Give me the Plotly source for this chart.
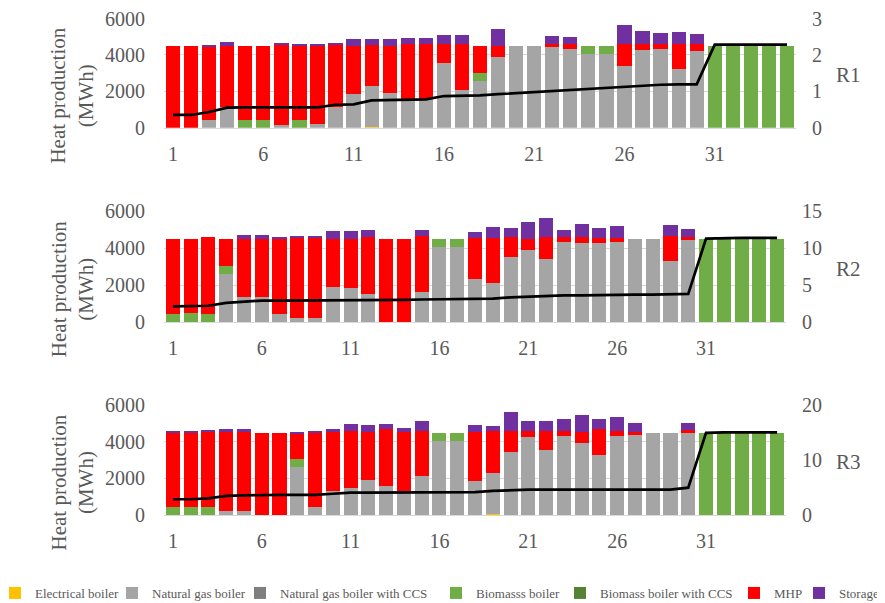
import plotly.graph_objects as go

periods = list(range(1, 36))
tick_periods = [1, 6, 11, 16, 21, 26, 31]

categories = ['Electrical boiler', 'Natural gas boiler', 'Natural gas boiler with CCS',
              'Biomasss boiler', 'Biomass boiler with CCS', 'MHP', 'Storage']
colors = ['#FFC000', '#A5A5A5', '#7F7F7F', '#70AD47', '#548235', '#FF0000', '#7030A0']

zeros = [0, 0, 0, 0, 0, 0, 0, 0, 0, 0, 0, 0, 0, 0, 0, 0, 0, 0, 0, 0, 0, 0, 0, 0, 0, 0, 0, 0, 0, 0, 0, 0, 0, 0, 0]

# ---- R1
r1_electrical = [0, 0, 0, 0, 0, 0, 0, 0, 0, 0, 0, 30, 0, 0, 0, 0, 0, 0, 0, 0, 0, 0, 0, 0, 0, 0, 0, 0, 0, 0, 0, 0, 0, 0, 0]
r1_gas = [0, 0, 400, 1140, 0, 0, 160, 0, 200, 1140, 1830, 2250, 1890, 1600, 1600, 3540, 2090, 2590, 3860, 4500,
          4500, 4440, 4320, 4040, 4040, 3410, 4280, 4320, 3250, 4220, 0, 0, 0, 0, 0]
r1_gas_ccs = zeros
r1_biomass = [0, 0, 0, 0, 420, 450, 0, 420, 0, 0, 0, 0, 0, 0, 0, 0, 0, 440, 0, 0,
              0, 0, 0, 460, 460, 0, 0, 0, 0, 0, 4500, 4500, 4500, 4500, 4500]
r1_biomass_ccs = zeros
r1_mhp = [4500, 4500, 4100, 3360, 4080, 4050, 4370, 4110, 4330, 3390, 2670, 2250, 2590, 2990, 3020, 1050, 2500, 1450, 640, 0,
          0, 150, 270, 0, 0, 1180, 320, 270, 1370, 370, 0, 0, 0, 0, 0]
r1_storage = [0, 0, 60, 210, 0, 0, 110, 70, 90, 150, 400, 330, 420, 360, 330, 520, 520, 0, 900, 0,
              0, 450, 400, 0, 0, 1030, 690, 610, 620, 540, 0, 0, 0, 0, 0]
r1_line = [0.35, 0.35, 0.43, 0.55, 0.56, 0.56, 0.56, 0.56, 0.56, 0.63, 0.64, 0.75, 0.76, 0.77, 0.78, 0.87, 0.87, 0.89,
           0.92, 0.95, 0.96, 1.0, 1.03, 1.07, 1.08, 1.13, 1.15, 1.18, 1.19, 1.19, 2.28, 2.28, 2.28, 2.28, 2.28]

# ---- R2
r2_electrical = [0, 0, 0, 0, 0, 0, 0, 0, 0, 0, 0, 0, 0, 0, 0, 0, 0, 20, 0, 0, 0, 20, 0, 0, 0, 0, 0, 0, 0, 0, 0, 0, 0, 0, 0]
r2_gas = [0, 0, 0, 2580, 1340, 1340, 430, 220, 220, 1900, 1860, 1520, 0, 0, 1610, 4050, 4050, 2290, 2100, 3540,
          3900, 3410, 4350, 4300, 4260, 4350, 4480, 4480, 3290, 4450, 0, 0, 0, 0, 0]
r2_gas_ccs = zeros
r2_biomass = [430, 470, 430, 460, 0, 0, 0, 0, 0, 0, 0, 0, 0, 0, 0, 430, 430, 0, 0, 0,
              0, 0, 0, 0, 0, 0, 0, 0, 0, 0, 4480, 4480, 4480, 4480, 4480]
r2_biomass_ccs = zeros
r2_mhp = [4050, 4010, 4160, 1440, 3180, 3180, 4090, 4370, 4370, 2620, 2660, 3070, 4480, 4480, 3050, 0, 0, 2260, 2470, 1050,
          620, 1200, 240, 330, 310, 220, 0, 0, 1370, 140, 0, 0, 0, 0, 0]
r2_storage = [0, 0, 0, 0, 180, 210, 50, 90, 90, 400, 400, 400, 0, 0, 310, 0, 0, 290, 560, 520,
              920, 990, 400, 680, 540, 630, 0, 0, 600, 430, 0, 0, 0, 0, 0]
r2_line = [2.12, 2.12, 2.2, 2.6, 2.8, 2.9, 2.9, 2.9, 2.9, 2.95, 2.95, 2.95, 2.95, 3.0, 3.05, 3.1, 3.15, 3.16,
           3.16, 3.34, 3.43, 3.57, 3.6, 3.6, 3.6, 3.6, 3.7, 3.72, 3.75, 3.8, 11.3, 11.4, 11.4, 11.4, 11.4]

# ---- R3
r3_electrical = [0, 0, 0, 0, 0, 0, 0, 0, 0, 0, 0, 0, 0, 0, 0, 0, 0, 0, 50, 0, 0, 0, 0, 0, 0, 0, 0, 0, 0, 0, 0, 0, 0, 0, 0]
r3_gas = [0, 0, 0, 230, 230, 0, 0, 2600, 450, 1320, 1500, 1930, 1590, 1320, 2110, 4030, 4030, 1860, 2260, 3430,
          4260, 3560, 4320, 3900, 3290, 4300, 4350, 4480, 4480, 4480, 0, 0, 0, 0, 0]
r3_gas_ccs = zeros
r3_biomass = [450, 450, 450, 0, 0, 0, 0, 440, 0, 0, 0, 0, 0, 0, 0, 450, 450, 0, 0, 0,
              0, 0, 0, 0, 0, 0, 0, 0, 0, 0, 4480, 4480, 4480, 4480, 4480]
r3_biomass_ccs = zeros
r3_mhp = [4050, 4050, 4090, 4310, 4310, 4480, 4480, 1440, 4050, 3220, 3070, 2570, 3070, 3220, 2460, 0, 0, 2680, 2240, 1160,
          310, 1010, 250, 640, 1370, 290, 190, 0, 0, 130, 0, 0, 0, 0, 0]
r3_storage = [40, 40, 90, 120, 120, 0, 0, 40, 70, 160, 400, 380, 290, 180, 540, 0, 0, 370, 310, 1030,
              540, 540, 630, 900, 580, 720, 480, 0, 0, 410, 0, 0, 0, 0, 0]
r3_line = [2.9, 2.9, 3.07, 3.5, 3.6, 3.7, 3.7, 3.7, 3.7, 3.9, 4.1, 4.1, 4.1, 4.1, 4.1, 4.1, 4.15, 4.2,
           4.4, 4.58, 4.64, 4.64, 4.64, 4.64, 4.64, 4.64, 4.64, 4.64, 4.64, 5.0, 14.9, 15.0, 15.0, 15.0, 15.0]

regions = [
    ('R1', [r1_electrical, r1_gas, r1_gas_ccs, r1_biomass, r1_biomass_ccs, r1_mhp, r1_storage], r1_line, 3, 1),
    ('R2', [r2_electrical, r2_gas, r2_gas_ccs, r2_biomass, r2_biomass_ccs, r2_mhp, r2_storage], r2_line, 15, 5),
    ('R3', [r3_electrical, r3_gas, r3_gas_ccs, r3_biomass, r3_biomass_ccs, r3_mhp, r3_storage], r3_line, 20, 10),
]

W, H = 885, 603
FONT = 'Liberation Serif'
GREY = '#595959'
OFF = 8  # the page body adds an 8px margin, so lay out 8px up/left

# plot areas in page pixels: (left, right, top, bottom)
areas = [(164, 796, 18.5, 127.7), (164, 786, 211.3, 322), (164, 786, 404.7, 515.3)]

# where each legend text starts on the page (px)
legend_text_x = [36, 153, 281, 477, 601, 775, 840]

fig = go.Figure()
layout = dict()

for i, (name, series, line, rmax, rdtick) in enumerate(regions):
    n = i + 1
    xa = 'x' if n == 1 else f'x{n}'
    ya = 'y' if n == 1 else f'y{2 * n - 1}'
    ya2 = f'y{2 * n}'
    for k, (cat, vals) in enumerate(zip(categories, series)):
        fig.add_trace(go.Bar(
            x=periods, y=vals, name=cat, marker_color=colors[k], marker_line_width=0,
            xaxis=xa, yaxis=ya, showlegend=(n == 1),
            legend='legend' if k == 0 else f'legend{k + 1}',
        ))
    fig.add_trace(go.Scatter(
        x=periods, y=line, mode='lines', line=dict(color='black', width=2.7),
        xaxis=xa, yaxis=ya2, showlegend=False, name=name,
    ))

    l, r, t, b = [v - OFF for v in areas[i]]
    xkey = 'xaxis' if n == 1 else f'xaxis{n}'
    ykey = 'yaxis' if n == 1 else f'yaxis{2 * n - 1}'
    y2key = f'yaxis{2 * n}'
    layout[xkey] = dict(
        domain=[l / W, r / W], anchor=ya, range=[0.5, 35.5], tickmode='array', tickvals=tick_periods,
        showgrid=False, showline=True, linecolor='#D9D9D9', linewidth=1.3, ticks='',
        tickfont=dict(family=FONT, size=20, color=GREY), ticklabelstandoff=8,
    )
    layout[ykey] = dict(
        domain=[1 - b / H, 1 - t / H], anchor=xa, range=[0, 6000], dtick=2000, tick0=0,
        showgrid=True, gridcolor='#D9D9D9', gridwidth=1.3, zeroline=False,
        tickfont=dict(family=FONT, size=20, color=GREY), ticklabelstandoff=18,
        ticklabeloverflow='allow',
    )
    layout[y2key] = dict(
        overlaying=ya, side='right', anchor=xa, range=[0, rmax], dtick=rdtick, tick0=0,
        showgrid=False, zeroline=False,
        tickfont=dict(family=FONT, size=20, color=GREY), ticklabelstandoff=15,
        ticklabeloverflow='allow',
    )
    mid = (t + b) / 2
    # y title, centred a little below the plot area like the original
    fig.add_annotation(
        text='Heat production<br>(MWh)', xref='paper', yref='paper', x=(72 - OFF) / W, y=1 - (mid + 22.5) / H,
        xanchor='center', yanchor='middle', textangle=-90, showarrow=False,
        font=dict(family=FONT, size=21, color=GREY),
    )
    fig.add_annotation(
        text=name, xref='paper', yref='paper', x=(834 - OFF) / W, y=1 - (mid + 2) / H,
        xanchor='left', yanchor='middle', showarrow=False,
        font=dict(family=FONT, size=21, color=GREY),
    )

for k in range(len(categories)):
    key = 'legend' if k == 0 else f'legend{k + 1}'
    layout[key] = dict(
        orientation='h', x=(legend_text_x[k] - OFF - 41) / W, xanchor='left',
        y=1 - (593 - OFF) / H, yanchor='middle',
        bgcolor='rgba(0,0,0,0)', font=dict(family=FONT, size=13, color=GREY),
        itemclick=False, itemdoubleclick=False,
    )

fig.update_layout(**layout)
fig.update_layout(
    barmode='stack', bargap=0.21,
    width=W, height=H, autosize=False,
    margin=dict(l=0, r=0, t=0, b=0, pad=0, autoexpand=False),
    plot_bgcolor='white', paper_bgcolor='white',
    font=dict(family=FONT, color=GREY),
)

fig.write_html('out.html')
